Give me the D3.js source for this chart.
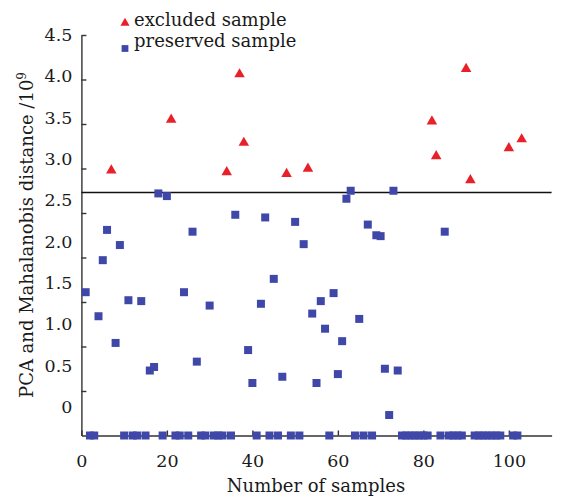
<!DOCTYPE html>
<html lang="en">
<head>
<meta charset="UTF-8">
<title>PCA and Mahalanobis distance</title>
<script src="https://d3js.org/d3.v7.min.js"></script>
<style>
  body { margin: 0; background: #fff; }
  svg { display: block; font-family: "DejaVu Serif", serif; }
  .axis text { font-size: 17.5px; fill: #1a1a1a; font-family: "DejaVu Serif", serif; }
  .axis path, .axis line { stroke: #333; stroke-width: 1.4; }
  .title { font-size: 18px; fill: #1a1a1a; }
</style>
</head>
<body>
<svg width="564" height="499"></svg>
<script>
// excluded samples (above threshold)
const excludedIdx  = [7, 21, 34, 37, 38, 48, 53, 82, 83, 90, 91, 100, 103];
const excludedDist = [2.99, 3.56, 2.97, 4.07, 3.30, 2.95, 3.01, 3.54, 3.15, 4.13, 2.88, 3.24, 3.34];

// preserved samples with a visible distance
const preservedIdx  = [1, 4, 5, 6, 8, 9, 11, 14, 16, 17, 18, 20, 24, 26, 27, 30, 36, 39, 40, 42, 43, 45,
  47, 50, 52, 54, 55, 56, 57, 59, 60, 61, 62, 63, 65, 67, 69, 70, 71, 72, 73, 74, 85];
const preservedDist = [1.61, 1.34, 1.97, 2.31, 1.04, 2.14, 1.52, 1.51, 0.73, 0.77, 2.72, 2.69, 1.61, 2.29,
  0.83, 1.46, 2.48, 0.96, 0.59, 1.48, 2.45, 1.76, 0.66, 2.40, 2.15, 1.37, 0.59, 1.51, 1.20, 1.60, 0.69,
  1.06, 2.66, 2.75, 1.31, 2.37, 2.25, 2.24, 0.75, 0.23, 2.75, 0.73, 2.29];

// preserved samples sitting on the axis (distance 0)
const zeroIdx = [2, 3, 10, 12, 13, 15, 19, 22, 23, 25, 28, 29, 31, 32, 33, 35, 41, 44, 46, 49, 51, 58,
  64, 66, 68, 75, 76, 77, 78, 79, 80, 81, 84, 86, 87, 88, 89, 92, 93, 94, 95, 96, 97, 98, 101, 102];

const threshold = 2.73;
const xTicks = [0, 20, 40, 60, 80, 100];
const yTicks = [0, 0.5, 1, 1.5, 2, 2.5, 3, 3.5, 4, 4.5];

const svg = d3.select("svg");

const x = d3.scaleLinear().domain([0, 110]).range([81.4, 551.6]);
const y = d3.scaleLinear().domain([0, 4.5]).range([435.5, 35]);
// the printed tick labels sit on a slightly compressed scale in the original figure
const yLab = d3.scaleLinear().domain([0, 4.5]).range([407, 35]);

// y axis: line + inward tick marks
svg.append("g")
    .attr("class", "axis")
    .attr("transform", "translate(" + x(0) + ",0)")
    .call(d3.axisLeft(y).tickValues(yTicks.slice(1)).tickSizeInner(-5).tickSizeOuter(0).tickFormat(""));

// y labels
svg.append("g")
    .attr("class", "axis")
    .attr("transform", "translate(" + x(0) + ",0)")
    .call(d3.axisLeft(yLab).tickValues(yTicks).tickSize(0).tickPadding(9)
      .tickFormat(d => d === 0 ? "0" : d.toFixed(1)))
    .select(".domain").remove();

// x axis
svg.append("g")
    .attr("class", "axis")
    .attr("transform", "translate(0," + y(0) + ")")
    .call(d3.axisBottom(x).tickValues(xTicks).tickSizeInner(-5).tickSizeOuter(0).tickPadding(19));

// threshold line
svg.append("line")
    .attr("x1", x(0)).attr("x2", x(110))
    .attr("y1", y(threshold)).attr("y2", y(threshold))
    .attr("stroke", "#111").attr("stroke-width", 1.5);

const blue = "#3f48a8", red = "#e8202a";
const sq = d3.symbol().type(d3.symbolSquare).size(64);
const tri = d3.symbol().type(d3.symbolTriangle).size(48);

const preserved = preservedIdx.map((n, i) => ({n, v: preservedDist[i]}))
  .concat(zeroIdx.map(n => ({n, v: 0})));
const excluded = excludedIdx.map((n, i) => ({n, v: excludedDist[i]}));

svg.append("g").selectAll("path")
  .data(preserved)
  .join("path")
    .attr("d", sq)
    .attr("fill", blue)
    .attr("transform", d => "translate(" + x(d.n) + "," + y(d.v) + ")");

svg.append("g").selectAll("path")
  .data(excluded)
  .join("path")
    .attr("d", tri)
    .attr("fill", red)
    .attr("transform", d => "translate(" + x(d.n) + "," + (y(d.v) + 1) + ")");

// legend
const legend = svg.append("g");
legend.append("path").attr("d", d3.symbol().type(d3.symbolTriangle).size(36))
    .attr("fill", red).attr("transform", "translate(125,23)");
legend.append("text").attr("class", "title").attr("x", 134).attr("y", 26).text("excluded sample");
legend.append("path").attr("d", d3.symbol().type(d3.symbolSquare).size(46))
    .attr("fill", blue).attr("transform", "translate(125,48.5)");
legend.append("text").attr("class", "title").attr("x", 134).attr("y", 47).text("preserved sample");

// axis titles
svg.append("text").attr("class", "title")
    .attr("x", 316).attr("y", 492).attr("text-anchor", "middle")
    .text("Number of samples");

const yt = svg.append("text").attr("class", "title")
    .attr("transform", "translate(33,235) rotate(-90)")
    .attr("text-anchor", "middle");
yt.append("tspan").text("PCA and Mahalanobis distance /10");
yt.append("tspan").attr("font-size", 12).attr("dy", -7).text("9");
</script>
</body>
</html>
